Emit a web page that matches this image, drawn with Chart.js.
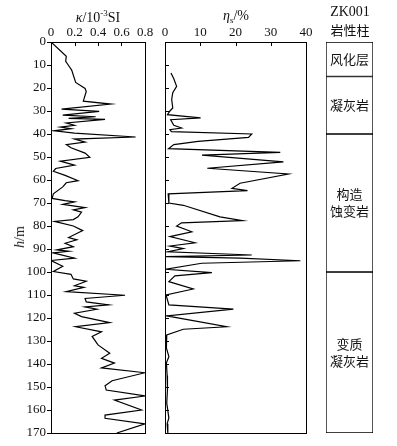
<!DOCTYPE html>
<html>
<head>
<meta charset="utf-8">
<script src="https://cdn.jsdelivr.net/npm/chart.js@4"></script>
<style>
  html, body { margin: 0; padding: 0; background: #fff; }
  #wrap { position: relative; width: 397px; height: 446px; overflow: hidden; font-family: "Liberation Serif", serif; color: #111; }
  canvas { position: absolute; top: 0; }
  .lbl { position: absolute; white-space: nowrap; transform: translate(-50%, -50%); font-size: 14px; line-height: 1; }
  .cjk { font-family: "Noto Sans CJK SC", sans-serif; font-size: 13px; }
</style>
</head>
<body>
<div id="wrap">
  <canvas id="c1" width="160" height="446" style="left:0px;width:160px;height:446px"></canvas>
  <canvas id="c2" width="165" height="446" style="left:155px;width:165px;height:446px"></canvas>
  <canvas id="c3" width="77" height="446" style="left:320px;width:77px;height:446px"></canvas>
  <div class="lbl" style="left:98px;top:17px"><i>κ</i>/10<sup style="font-size:9px">-3</sup>SI</div>
  <div class="lbl" style="left:236px;top:17px"><i>η</i><sub style="font-size:9px">s</sub>/%</div>
  <div class="lbl" style="left:350px;top:12px">ZK001</div>
  <div class="lbl cjk" style="left:350px;top:29px">岩性柱</div>
  <div class="lbl" style="left:20px;top:237px;transform:translate(-50%,-50%) rotate(-90deg)"><i>h</i>/m</div>
</div>
<script>
// magnetic susceptibility log
const kappaDepth = [0, 6.2, 8.4, 10.1, 12.2, 17.6, 20.2, 21.5, 25.7, 27, 29.2, 30.2, 31.8, 32.5, 33.2, 33.6, 35.2, 36.2, 37, 37.7, 38.6, 39.6, 41.3, 42.2, 43.5, 44.6, 46, 48.3, 50.1, 51.8, 53.5, 55, 56.2, 58, 60.3, 61.2, 63, 66, 68, 69, 69.5, 70.6, 72, 73, 74, 76, 77.2, 78, 80, 82, 85, 86, 87.5, 89, 90.4, 91, 91.7, 94, 95, 97.5, 99.8, 101, 103, 104, 106, 106.7, 108.5, 110.1, 111.5, 113, 114.3, 115.2, 116.2, 117.9, 119.4, 122, 123.8, 126, 128, 131.7, 135.3, 137.5, 139.6, 141.7, 143.8, 147.3, 149.5, 151.3, 153.9, 155.7, 160, 162.2, 163.6, 166, 170];
const kappaValue = [0, 0.13, 0.125, 0.148, 0.176, 0.21, 0.29, 0.30, 0.275, 0.51, 0.09, 0.41, 0.10, 0.38, 0.15, 0.46, 0.13, 0.2, 0.08, 0.17, 0.03, 0.2, 0.72, 0.2, 0.29, 0.13, 0.17, 0.29, 0.33, 0.08, 0.2, 0.04, 0.02, 0.12, 0.23, 0.13, 0.1, 0.02, 0.01, 0.12, 0.2, 0.1, 0.29, 0.19, 0.26, 0.23, 0.19, 0.03, 0.19, 0.27, 0.15, 0.22, 0.12, 0.19, 0.05, 0.15, 0.02, 0.2, 0.0, 0.1, 0.02, 0.17, 0.19, 0.3, 0.2, 0.28, 0.13, 0.63, 0.29, 0.3, 0.49, 0.29, 0.39, 0.2, 0.26, 0.5, 0.21, 0.43, 0.35, 0.4, 0.5, 0.43, 0.54, 0.43, 0.8, 0.52, 0.46, 0.47, 0.8, 0.54, 0.77, 0.46, 0.46, 0.8, 0.56];

// induced polarisation log
const etaDepth = [13.5, 16, 19.3, 22, 25, 28.7, 30, 31.6, 33, 33.8, 36.2, 37.4, 38.1, 39, 40, 41.5, 43.2, 44.6, 46.4, 48, 49.2, 52.1, 54.9, 57.4, 61.4, 63.6, 64.6, 66, 70, 71, 76, 77.7, 78.6, 80, 82.5, 84.6, 87.3, 88.7, 89.8, 91.2, 92.6, 93.3, 94, 95.1, 96.2, 98.8, 100.3, 101.7, 104.2, 107.4, 110, 114.3, 116.1, 119.1, 123.8, 124.9, 127.4, 133, 136.8, 139.5, 145, 151, 157, 163.5, 166, 170];
const etaValue = [1.7, 2.5, 3.3, 2.2, 1.9, 2.2, 1.4, 0.7, 10.1, 1.6, 2.5, 4.7, 1.4, 1.8, 24.6, 23.7, 9.4, 2.5, 1.0, 32.7, 10.5, 33.6, 12, 35, 21.3, 19, 23.4, 0.9, 1.1, 5.2, 15.6, 22, 4.7, 3.3, 7.6, 1.4, 8.5, 1.4, 5.2, 0.9, 24.6, 0.3, 21.3, 38.4, 10.4, 0.3, 13.3, 2.8, 1.1, 8, 0.3, 1.1, 19.4, 0.5, 17.5, 5.2, 0.5, 0.4, 1.1, 0.4, 0.6, 0.7, 0.5, 1.1, 0.6, 0.8];

const kappaTicks = [0, 0.2, 0.4, 0.6, 0.8];
const etaTicks = [0, 10, 20, 30, 40];
const depthTicks = [0, 10, 20, 30, 40, 50, 60, 70, 80, 90, 100, 110, 120, 130, 140, 150, 160, 170];

// lithology column
const lithTop = [0, 15, 40, 100];
const lithBottom = [15, 40, 100, 170];
const lithNames = [["风化层"], ["凝灰岩"], ["构造", "蚀变岩"], ["变质", "凝灰岩"]];

const tickFont = { family: "Liberation Serif", size: 13 };

// box round the plot area plus short inward ticks
const framePlugin = {
  id: "frame",
  afterDraw(chart, args, opts) {
    const a = chart.chartArea, ctx = chart.ctx;
    ctx.save();
    ctx.strokeStyle = "#000";
    ctx.lineWidth = 1;
    ctx.strokeRect(Math.round(a.left) + 0.5, Math.round(a.top) + 0.5, Math.round(a.right - a.left), Math.round(a.bottom - a.top));
    ctx.beginPath();
    if (opts.topTicks) {
      chart.scales.x.ticks.forEach(t => {
        const px = Math.round(chart.scales.x.getPixelForValue(t.value)) + 0.5;
        ctx.moveTo(px, a.top); ctx.lineTo(px, a.top + 4);
      });
    }
    if (opts.leftTicks) {
      chart.scales.y.ticks.forEach(t => {
        const py = Math.round(chart.scales.y.getPixelForValue(t.value)) + 0.5;
        ctx.moveTo(a.left, py); ctx.lineTo(a.left + 4, py);
      });
    }
    ctx.stroke();
    ctx.restore();
  }
};

function pts(depth, vals) {
  return depth.map((d, i) => ({ x: vals[i], y: d }));
}

function logChart(id, depth, vals, xTicks, xMax, yWidth, showDepthLabels, padRight) {
  return new Chart(document.getElementById(id), {
    type: "scatter",
    data: {
      datasets: [{
        data: pts(depth, vals),
        showLine: true,
        borderColor: "#000",
        borderWidth: 1.2,
        pointRadius: 0,
        tension: 0
      }]
    },
    plugins: [framePlugin],
    options: {
      responsive: false,
      animation: false,
      layout: { padding: { left: 0, right: padRight, top: 0, bottom: 13 } },
      plugins: {
        legend: { display: false },
        tooltip: { enabled: false },
        frame: { topTicks: true, leftTicks: !showDepthLabels }
      },
      scales: {
        x: {
          type: "linear",
          position: "top",
          min: 0,
          max: xMax,
          afterBuildTicks: s => { s.ticks = xTicks.map(v => ({ value: v })); },
          ticks: { font: tickFont, color: "#111", padding: 2, maxRotation: 0, callback: v => String(v) },
          grid: { display: false, drawTicks: false, tickLength: 0 },
          border: { display: false },
          afterFit: s => { s.height = 42; }
        },
        y: {
          type: "linear",
          reverse: true,
          min: 0,
          max: 170,
          afterBuildTicks: s => { s.ticks = depthTicks.map(v => ({ value: v })); },
          ticks: { display: showDepthLabels, font: tickFont, color: "#111", padding: 1 },
          grid: { display: showDepthLabels, drawOnChartArea: false, tickLength: 4, color: "#000" },
          border: { display: false },
          afterFit: s => { s.width = yWidth; }
        }
      }
    }
  });
}

logChart("c1", kappaDepth, kappaValue, kappaTicks, 0.8, 51, true, 15);
logChart("c2", etaDepth, etaValue, etaTicks, 40, 10, false, 14);

// names written in the middle of each lithology bar
const lithLabelPlugin = {
  id: "lithLabels",
  afterDatasetsDraw(chart) {
    const ctx = chart.ctx;
    ctx.save();
    ctx.fillStyle = "#111";
    ctx.font = '13px "Noto Sans CJK SC"';
    ctx.textAlign = "center";
    ctx.textBaseline = "middle";
    chart.data.datasets.forEach((ds, i) => {
      const bar = chart.getDatasetMeta(i).data[0];
      const cy = (bar.y + bar.base) / 2;
      const lines = lithNames[i];
      lines.forEach((t, k) => {
        ctx.fillText(t, bar.x, cy + (k - (lines.length - 1) / 2) * 17);
      });
    });
    ctx.restore();
  }
};

new Chart(document.getElementById("c3"), {
  type: "bar",
  data: {
    labels: ["ZK001"],
    datasets: lithTop.map((t, i) => ({
      data: [[t, lithBottom[i]]],
      backgroundColor: "#fff",
      borderColor: "#000",
      borderWidth: 1,
      borderSkipped: false,
      barPercentage: 1,
      categoryPercentage: 1,
      grouped: false
    }))
  },
  plugins: [lithLabelPlugin],
  options: {
    responsive: false,
    animation: false,
    layout: { padding: { left: 6, right: 24, top: 42, bottom: 13 } },
    plugins: { legend: { display: false }, tooltip: { enabled: false } },
    scales: {
      x: { display: false },
      y: { display: false, reverse: true, min: 0, max: 170 }
    }
  }
});
</script>
</body>
</html>
